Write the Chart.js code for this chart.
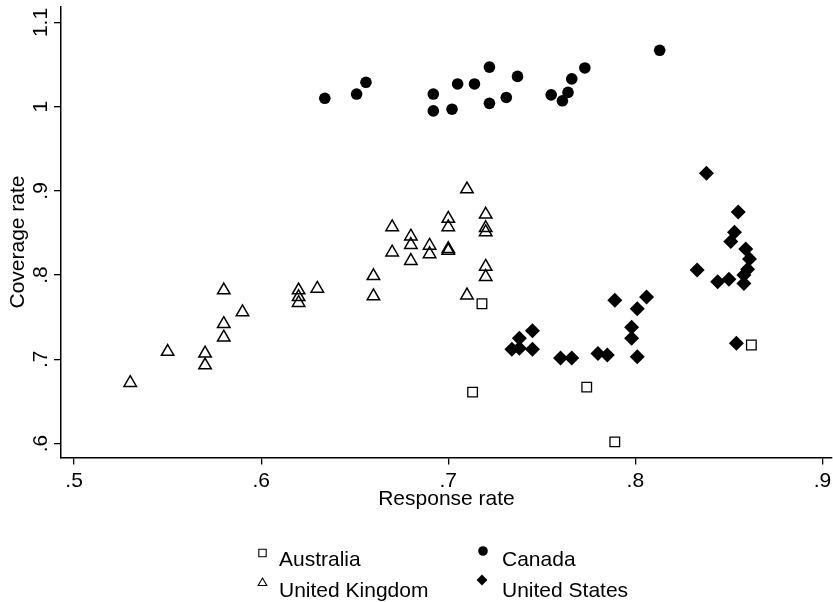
<!DOCTYPE html>
<html>
<head>
<meta charset="utf-8">
<title>Coverage rate x Response rate</title>
<script src="https://cdn.jsdelivr.net/npm/chart.js@4.4.1/dist/chart.umd.min.js"></script>
<style>
    html, body { margin: 0; padding: 0; background: #fff; }
    #wrap { width: 833px; height: 602px; }
</style>
</head>
<body>
<div id="wrap"><canvas id="grafico" width="833" height="602"></canvas></div>
<script>
// Dados (x = response rate, y = coverage rate)
const paises = ['Australia', 'Canada', 'United Kingdom', 'United States'];

const australiaX = [0.718, 0.713, 0.774, 0.789, 0.862];
const australiaY = [0.766, 0.661, 0.667, 0.602, 0.717];

const canadaX = [0.634, 0.651, 0.656, 0.692, 0.692, 0.702, 0.705, 0.714, 0.722,
                 0.722, 0.731, 0.737, 0.755, 0.761, 0.764, 0.766, 0.773, 0.813];
const canadaY = [1.010, 1.015, 1.029, 1.015, 0.995, 0.997, 1.027, 1.027, 1.047,
                 1.004, 1.011, 1.036, 1.014, 1.007, 1.017, 1.033, 1.046, 1.067];

const ukX = [0.53, 0.55, 0.57, 0.57, 0.58, 0.58, 0.58, 0.59, 0.62, 0.62, 0.62,
             0.63, 0.66, 0.66, 0.67, 0.67, 0.68, 0.68, 0.68, 0.69, 0.69, 0.70,
             0.70, 0.70, 0.70, 0.71, 0.71, 0.72, 0.72, 0.72, 0.72, 0.72];
const ukY = [0.672, 0.709, 0.707, 0.693, 0.782, 0.742, 0.726, 0.756, 0.782, 0.774, 0.767,
             0.784, 0.799, 0.775, 0.857, 0.827, 0.846, 0.836, 0.817, 0.835, 0.825, 0.867,
             0.857, 0.831, 0.829, 0.902, 0.776, 0.872, 0.856, 0.851, 0.810, 0.798];

const usX = [0.745, 0.738, 0.734, 0.738, 0.745, 0.760, 0.766, 0.780, 0.785, 0.789,
             0.798, 0.798, 0.801, 0.801, 0.806, 0.838, 0.855, 0.853, 0.851, 0.859,
             0.861, 0.860, 0.858, 0.833, 0.844, 0.850, 0.858, 0.854];
const usY = [0.734, 0.725, 0.712, 0.713, 0.712, 0.7015, 0.7015, 0.707, 0.705, 0.770,
             0.738, 0.725, 0.703, 0.760, 0.774, 0.921, 0.875, 0.851, 0.840, 0.831,
             0.819, 0.807, 0.800, 0.806, 0.792, 0.795, 0.790, 0.719];

const xTicks = [0.5, 0.6, 0.7, 0.8, 0.9];
const xTickLabels = ['.5', '.6', '.7', '.8', '.9'];
const yTicks = [0.6, 0.7, 0.8, 0.9, 1.0, 1.1];
const yTickLabels = ['.6', '.7', '.8', '.9', '1', '1.1'];

const FONTE = '"Liberation Sans", Arial, sans-serif';

function pontos(xs, ys) {
    return xs.map((x, i) => ({ x: x, y: ys[i] }));
}

// estilo de cada marcador (estilo Stata)
const estilos = [
    { pointStyle: 'rect', pointRadius: 6.8, pointBorderWidth: 1.3, pointBackgroundColor: 'rgba(0,0,0,0)' },
    { pointStyle: 'circle', pointRadius: 5.8, pointBorderWidth: 0, pointBackgroundColor: '#000' },
    { pointStyle: 'triangle', pointRadius: 7.2, pointBorderWidth: 1.5, pointBackgroundColor: 'rgba(0,0,0,0)' },
    { pointStyle: 'rectRot', pointRadius: 7.5, pointBorderWidth: 0, pointBackgroundColor: '#000' }
];

const series = [
    pontos(australiaX, australiaY),
    pontos(canadaX, canadaY),
    pontos(ukX, ukY),
    pontos(usX, usY)
];

const datasets = paises.map((nome, i) => Object.assign({
    label: nome,
    data: series[i],
    pointBorderColor: '#000',
    showLine: false,
    clip: false
}, estilos[i]));

// Legenda em duas colunas + título do eixo y (desenhados à mão)
const legendaPlugin = {
    id: 'legendaStata',
    afterDraw(chart) {
        const ctx = chart.ctx;
        const itens = [
            { ds: 0, mx: 262.5, my: 553, r: 5.2, tx: 279, ty: 566 },
            { ds: 1, mx: 483, my: 551, r: 4.8, tx: 502, ty: 566 },
            { ds: 2, mx: 262.5, my: 583, r: 5, tx: 279, ty: 597 },
            { ds: 3, mx: 482, my: 580, r: 5.4, tx: 502, ty: 597 }
        ];
        ctx.save();
        itens.forEach(item => {
            const ds = chart.data.datasets[item.ds];
            ctx.fillStyle = ds.pointBackgroundColor;
            ctx.strokeStyle = '#000';
            ctx.lineWidth = ds.pointBorderWidth ? 1.1 : 0;
            Chart.helpers.drawPoint(ctx, {
                pointStyle: ds.pointStyle,
                rotation: 0,
                radius: item.r,
                borderWidth: ds.pointBorderWidth ? 1.1 : 0
            }, item.mx, item.my);
            ctx.fillStyle = '#000';
            ctx.font = '21px ' + FONTE;
            ctx.textAlign = 'left';
            ctx.textBaseline = 'alphabetic';
            ctx.fillText(ds.label, item.tx, item.ty);
        });

        // título do eixo y, um pouco abaixo do centro como no original
        ctx.translate(18, 242);
        ctx.rotate(-Math.PI / 2);
        ctx.fillStyle = '#000';
        ctx.font = '21px ' + FONTE;
        ctx.textAlign = 'center';
        ctx.textBaseline = 'middle';
        ctx.fillText('Coverage rate', 0, 0);
        ctx.restore();
    }
};

new Chart(document.getElementById('grafico'), {
    type: 'scatter',
    data: { datasets: datasets },
    options: {
        responsive: false,
        animation: false,
        events: [],
        layout: { autoPadding: false, padding: { top: 7, right: 1, bottom: 84.5, left: 0 } },
        plugins: {
            legend: { display: false },
            tooltip: { enabled: false }
        },
        scales: {
            x: {
                type: 'linear',
                min: 0.4930,
                max: 0.9051,
                afterBuildTicks: scale => { scale.ticks = xTicks.map(v => ({ value: v })); },
                afterFit: scale => {
                    scale.height = 60;
                    scale.paddingLeft = 0;
                    scale.paddingRight = 0;
                },
                border: { display: true, color: '#000', width: 1.5 },
                grid: { display: true, drawOnChartArea: false, drawTicks: true, tickLength: 7, color: '#000', lineWidth: 1.3 },
                ticks: {
                    color: '#000',
                    padding: 4,
                    maxRotation: 0,
                    autoSkip: false,
                    font: { family: FONTE, size: 21 },
                    callback: (v, i) => xTickLabels[i]
                },
                title: {
                    display: true,
                    text: 'Response rate',
                    color: '#000',
                    font: { family: FONTE, size: 21 },
                    padding: { top: 0, bottom: 6 }
                }
            },
            y: {
                type: 'linear',
                min: 0.5834,
                max: 1.1184,
                afterBuildTicks: scale => { scale.ticks = yTicks.map(v => ({ value: v })); },
                afterFit: scale => {
                    scale.width = 61;
                    scale.paddingTop = 0;
                    scale.paddingBottom = 0;
                },
                border: { display: true, color: '#000', width: 1.5 },
                grid: { display: true, drawOnChartArea: false, drawTicks: true, tickLength: 7, color: '#000', lineWidth: 1.3 },
                ticks: {
                    color: '#000',
                    padding: -2,
                    minRotation: 90,
                    maxRotation: 90,
                    crossAlign: 'center',
                    autoSkip: false,
                    font: { family: FONTE, size: 21 },
                    callback: (v, i) => yTickLabels[i]
                },
                title: { display: false }
            }
        }
    },
    plugins: [legendaPlugin]
});
</script>
</body>
</html>
